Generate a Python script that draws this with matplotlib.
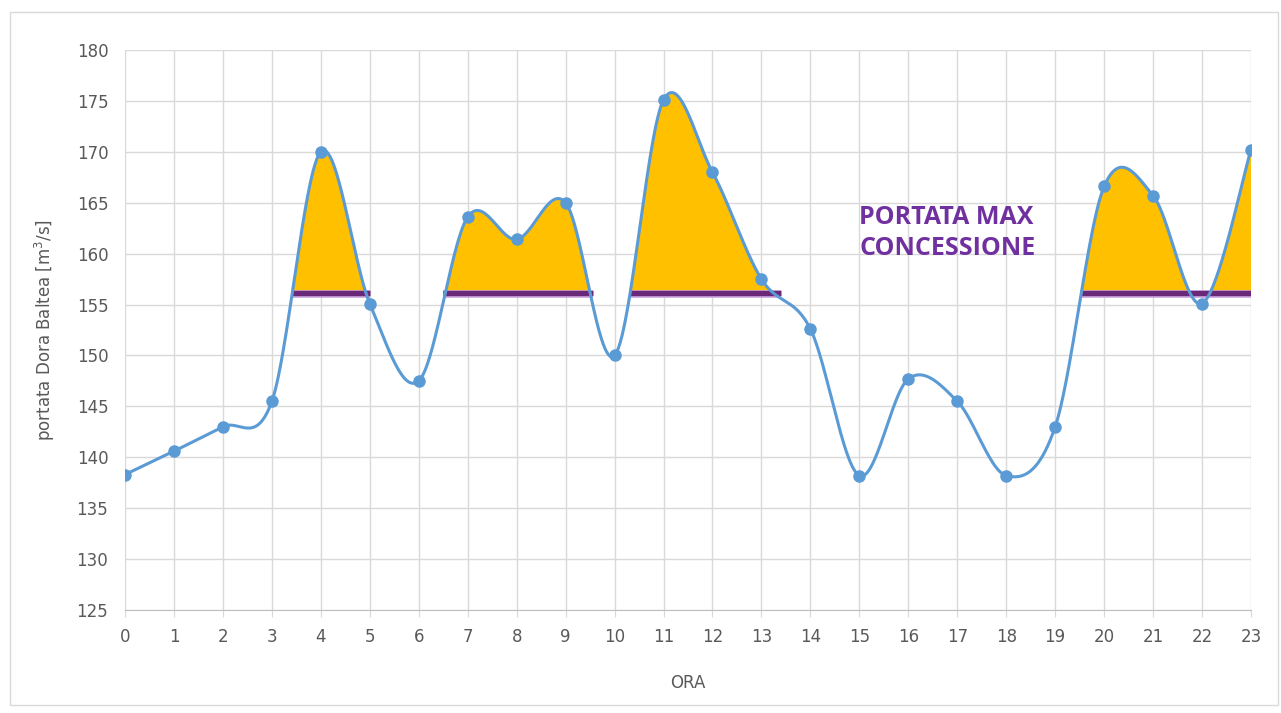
import numpy as np
import matplotlib.pyplot as plt
from matplotlib.patches import Rectangle

# hourly flow of the Dora Baltea (m3/s)
ore = list(range(24))
portata = [138.3, 140.6, 143.0, 145.5, 170.0, 155.1, 147.5, 163.6, 161.4, 165.0,
           150.0, 175.1, 168.0, 157.5, 152.6, 138.2, 147.7, 145.5, 138.2, 143.0,
           166.6, 165.7, 155.1, 170.2]

# maximum flow allowed by the concession and the hours it is exceeded
portata_max = 156.0
tratti_inizio = [3.4, 6.5, 10.3, 19.5]
tratti_fine = [5.0, 9.55, 13.4, 23.0]


def smooth(x, y, n=60):
    # Bezier smoothing through the points (Catmull-Rom style, like a spreadsheet chart)
    x = np.asarray(x, float)
    y = np.asarray(y, float)
    px = np.concatenate([[x[0]], x, [x[-1]]])
    py = np.concatenate([[y[0]], y, [y[-1]]])
    xs, ys = [], []
    t = np.linspace(0, 1, n, endpoint=False)
    for i in range(1, len(px) - 2):
        p0 = np.array([px[i], py[i]])
        p3 = np.array([px[i + 1], py[i + 1]])
        p1 = p0 + (np.array([px[i + 1], py[i + 1]]) - np.array([px[i - 1], py[i - 1]])) / 6
        p2 = p3 - (np.array([px[i + 2], py[i + 2]]) - p0) / 6
        b = ((1 - t) ** 3)[:, None] * p0 + (3 * (1 - t) ** 2 * t)[:, None] * p1 \
            + (3 * (1 - t) * t ** 2)[:, None] * p2 + (t ** 3)[:, None] * p3
        xs.append(b[:, 0])
        ys.append(b[:, 1])
    xs.append([x[-1]])
    ys.append([y[-1]])
    return np.concatenate(xs), np.concatenate(ys)


xs, ys = smooth(ore, portata)

fig = plt.figure(figsize=(12.81, 7.13), dpi=100)
ax = fig.add_axes([125 / 1281, 1 - 610 / 713, (1251 - 125) / 1281, (610 - 50) / 713])
plt.rcParams['font.family'] = ['Open Sans', 'DejaVu Sans']

# outer chart frame
fig.patches.append(Rectangle((10 / 1281, 8 / 713), 1268 / 1281, 693 / 713,
                             transform=fig.transFigure, fill=False,
                             edgecolor='#d9d9d9', linewidth=1))

# yellow areas above the concession limit
for a, b in zip(tratti_inizio, tratti_fine):
    m = (xs >= a) & (xs <= b)
    ax.fill_between(xs[m], portata_max, ys[m], where=ys[m] > portata_max,
                    color='#FFC000', linewidth=0, zorder=2, interpolate=True)
    ax.plot([a, b], [portata_max, portata_max], color='#c9a0dc', linewidth=5.5,
            solid_capstyle='butt', zorder=3)
    ax.plot([a, b], [portata_max + 0.12, portata_max + 0.12], color='#6a2878',
            linewidth=3.8, solid_capstyle='butt', zorder=3)

ax.plot(xs, ys, color='#5B9BD5', linewidth=2.2, zorder=4)
ax.plot(ore, portata, 'o', color='#5B9BD5', markersize=8, zorder=5)

ax.text(15.0, 162.0, 'PORTATA MAX\nCONCESSIONE', color='#7030A0', fontsize=18,
        fontweight='bold', va='center', ha='left', linespacing=1.3, zorder=6)

ax.set_xlim(0, 23)
ax.set_ylim(125, 180)
ax.set_xticks(ore)
ax.set_yticks(np.arange(125, 181, 5))
ax.grid(True, color='#d9d9d9', linewidth=1)
ax.set_axisbelow(True)
for s in ['top', 'right', 'left']:
    ax.spines[s].set_visible(False)
ax.spines['bottom'].set_color('#bfbfbf')
ax.tick_params(axis='both', colors='#595959', labelsize=12, length=0, pad=12)
ax.tick_params(axis='x', length=5, color='#d9d9d9', pad=8)

ax.set_xlabel('ORA', color='#595959', fontsize=12, labelpad=20)
ax.set_ylabel('portata Dora Baltea [m$^3$/s]', color='#595959', fontsize=12, labelpad=14)

fig.savefig('out.png', dpi=100)
